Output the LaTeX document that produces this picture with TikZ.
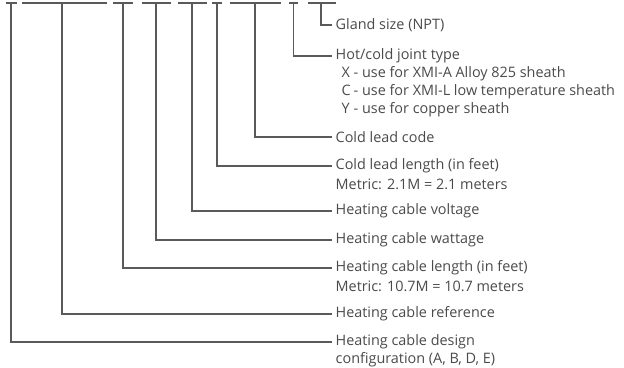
\documentclass[tikz,border=0pt]{standalone}
\usepackage{fontspec}
\setmainfont{Open Sans}
\begin{document}
\begin{tikzpicture}[x=1pt,y=-1pt,
  bar/.style={draw=linegray,line width=2pt},
  conn/.style={draw=linegray,line width=1.1pt},
  lab/.style={anchor=west,inner xsep=3.5pt,inner ysep=0pt,text=textgray,font=\fontsize{14.4}{17}\selectfont},
  sub/.style={lab,xshift=6pt}]
\definecolor{linegray}{HTML}{5A5A5A}
\definecolor{textgray}{HTML}{4A4A4A}
\useasboundingbox (0,0) rectangle (624,367);
% bars
\draw[bar] (6,3) -- (17,3);
\draw[bar] (22,3) -- (107,3);
\draw[bar] (113,3) -- (133,3);
\draw[bar] (142,3) -- (171,3);
\draw[bar] (178,3) -- (207,3);
\draw[bar] (212,3) -- (222,3);
\draw[bar] (230,3) -- (281,3);
\draw[bar] (289,3) -- (298,3);
\draw[bar] (308,3) -- (336,3);
% stem tops
\coordinate (s1) at (11,3);
\coordinate (s2) at (62,3);
\coordinate (s3) at (123,3);
\coordinate (s4) at (156,3);
\coordinate (s5) at (192,3);
\coordinate (s6) at (217,3);
\coordinate (s7) at (255,3);
\coordinate (s8) at (293.5,3);
\coordinate (s9) at (321,3);
% labels
\node[lab] (l9) at (332,25) {Gland size (NPT)};
\node[lab] (l8) at (332,56) {Hot/cold joint type};
\node[sub] (l8a) at (332,74) {\makebox[12pt][l]{X}- use for XMI-A Alloy 825 sheath};
\node[sub] (l8b) at (332,92) {\makebox[12pt][l]{C}- use for XMI-L low temperature sheath};
\node[sub] (l8c) at (332,110) {\makebox[12pt][l]{Y}- use for copper sheath};
\node[lab] (l7) at (332,137) {Cold lead code};
\node[lab] (l6) at (332,166) {Cold lead length (in feet)};
\node[lab] (l6a) at (332,184) {Metric: 2.1M = 2.1 meters};
\node[lab] (l5) at (332,211) {Heating cable voltage};
\node[lab] (l4) at (332,240) {Heating cable wattage};
\node[lab] (l3) at (332,268) {Heating cable length (in feet)};
\node[lab] (l3a) at (332,286) {Metric: 10.7M = 10.7 meters};
\node[lab] (l2) at (332,314) {Heating cable reference};
\node[lab] (l1) at (332,342) {Heating cable design};
\node[lab] (l1a) at (332,360) {configuration (A, B, D, E)};
% connectors
\foreach \i in {1,...,9} {\draw[conn] (s\i) |- (l\i.west);}
\end{tikzpicture}
\end{document}
